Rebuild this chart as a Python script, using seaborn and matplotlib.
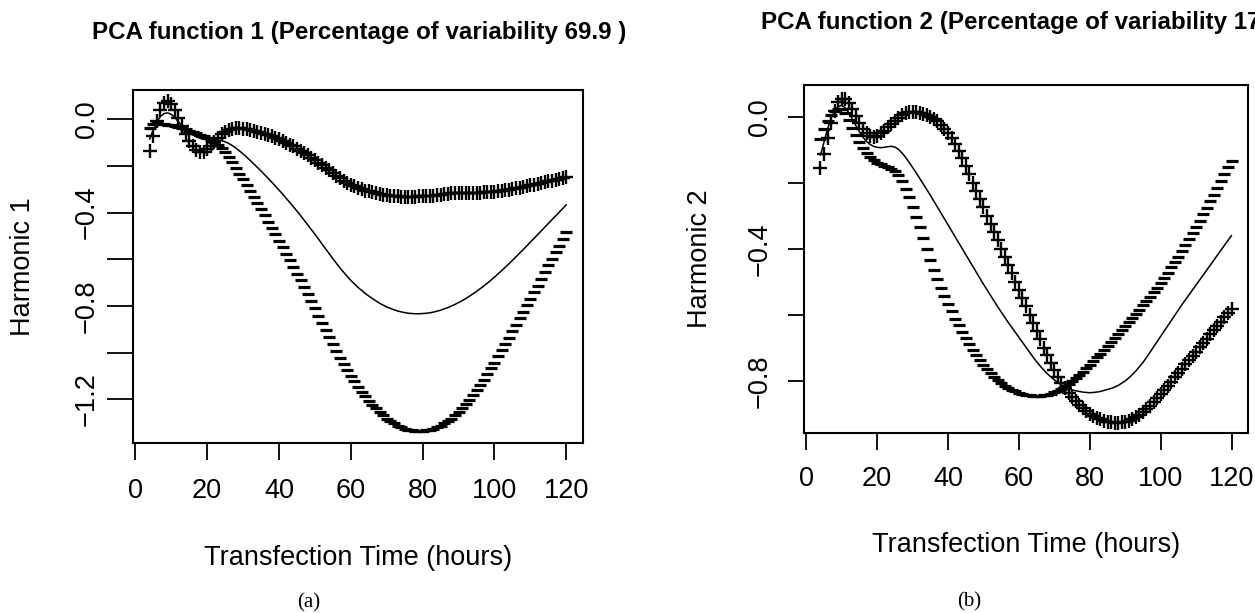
import matplotlib
matplotlib.use("Agg")
import matplotlib.pyplot as plt
import seaborn as sns
import pandas as pd

hours = list(range(4, 121))

mean_a = [-0.085,-0.045,-0.010,0.012,0.025,0.028,0.022,0.008,-0.010,-0.028,
          -0.044,-0.057,-0.067,-0.075,-0.081,-0.085,-0.087,-0.088,-0.088,-0.089,
          -0.091,-0.096,-0.103,-0.112,-0.123,-0.135,-0.148,-0.162,-0.176,-0.191,
          -0.206,-0.221,-0.237,-0.253,-0.269,-0.286,-0.303,-0.320,-0.338,-0.356,
          -0.374,-0.393,-0.412,-0.432,-0.452,-0.472,-0.492,-0.513,-0.534,-0.555,
          -0.576,-0.597,-0.617,-0.637,-0.655,-0.673,-0.690,-0.705,-0.720,-0.733,
          -0.746,-0.757,-0.768,-0.778,-0.788,-0.796,-0.804,-0.810,-0.816,-0.821,
          -0.825,-0.828,-0.831,-0.832,-0.833,-0.833,-0.832,-0.831,-0.829,-0.826,
          -0.822,-0.818,-0.812,-0.807,-0.800,-0.793,-0.785,-0.777,-0.768,-0.758,
          -0.748,-0.737,-0.726,-0.714,-0.702,-0.689,-0.676,-0.662,-0.648,-0.634,
          -0.619,-0.604,-0.589,-0.573,-0.558,-0.542,-0.526,-0.510,-0.494,-0.478,
          -0.462,-0.446,-0.430,-0.414,-0.398,-0.382,-0.366]

plus_a = [-0.135,-0.070,-0.005,0.042,0.070,0.078,0.067,0.041,0.007,-0.028,
          -0.062,-0.092,-0.115,-0.131,-0.139,-0.138,-0.129,-0.114,-0.096,-0.079,
          -0.064,-0.053,-0.045,-0.040,-0.038,-0.038,-0.040,-0.043,-0.046,-0.050,
          -0.054,-0.058,-0.063,-0.068,-0.073,-0.079,-0.085,-0.092,-0.100,-0.108,
          -0.116,-0.125,-0.134,-0.144,-0.154,-0.164,-0.174,-0.185,-0.196,-0.207,
          -0.219,-0.231,-0.242,-0.253,-0.262,-0.271,-0.280,-0.287,-0.294,-0.299,
          -0.305,-0.309,-0.313,-0.317,-0.321,-0.323,-0.326,-0.327,-0.329,-0.330,
          -0.331,-0.331,-0.332,-0.331,-0.331,-0.330,-0.329,-0.329,-0.328,-0.327,
          -0.325,-0.324,-0.321,-0.320,-0.317,-0.317,-0.316,-0.316,-0.316,-0.315,
          -0.315,-0.314,-0.314,-0.313,-0.312,-0.311,-0.310,-0.308,-0.306,-0.304,
          -0.301,-0.299,-0.296,-0.293,-0.290,-0.287,-0.283,-0.280,-0.276,-0.273,
          -0.269,-0.266,-0.262,-0.259,-0.255,-0.252,-0.248]

minus_a = [-0.035,-0.020,-0.015,-0.018,-0.020,-0.022,-0.024,-0.028,-0.033,-0.038,
           -0.043,-0.048,-0.054,-0.060,-0.066,-0.073,-0.080,-0.088,-0.098,-0.109,
           -0.121,-0.139,-0.161,-0.184,-0.208,-0.232,-0.256,-0.281,-0.306,-0.332,
           -0.358,-0.384,-0.411,-0.438,-0.465,-0.493,-0.521,-0.548,-0.576,-0.604,
           -0.632,-0.661,-0.690,-0.720,-0.750,-0.780,-0.810,-0.841,-0.872,-0.903,
           -0.933,-0.963,-0.992,-1.021,-1.048,-1.075,-1.100,-1.123,-1.146,-1.167,
           -1.187,-1.205,-1.223,-1.239,-1.255,-1.269,-1.282,-1.293,-1.303,-1.312,
           -1.319,-1.325,-1.330,-1.333,-1.335,-1.336,-1.335,-1.333,-1.330,-1.325,
           -1.319,-1.312,-1.303,-1.294,-1.283,-1.269,-1.254,-1.238,-1.220,-1.201,
           -1.181,-1.160,-1.138,-1.115,-1.092,-1.067,-1.042,-1.016,-0.990,-0.964,
           -0.937,-0.909,-0.882,-0.853,-0.826,-0.797,-0.769,-0.740,-0.712,-0.683,
           -0.655,-0.626,-0.598,-0.569,-0.541,-0.512,-0.484]

mean_b = [-0.115,-0.075,-0.035,-0.003,0.020,0.033,0.036,0.029,0.014,-0.005,
          -0.025,-0.044,-0.060,-0.073,-0.082,-0.088,-0.091,-0.092,-0.091,-0.089,
          -0.088,-0.090,-0.097,-0.108,-0.121,-0.136,-0.152,-0.168,-0.185,-0.202,
          -0.219,-0.236,-0.254,-0.272,-0.290,-0.308,-0.326,-0.344,-0.362,-0.380,
          -0.398,-0.416,-0.434,-0.452,-0.470,-0.488,-0.506,-0.523,-0.540,-0.557,
          -0.574,-0.590,-0.606,-0.622,-0.637,-0.652,-0.667,-0.682,-0.697,-0.712,
          -0.727,-0.741,-0.754,-0.766,-0.777,-0.787,-0.796,-0.804,-0.811,-0.817,
          -0.822,-0.826,-0.829,-0.831,-0.833,-0.834,-0.835,-0.834,-0.833,-0.831,
          -0.828,-0.825,-0.822,-0.818,-0.813,-0.806,-0.799,-0.790,-0.780,-0.769,
          -0.756,-0.743,-0.728,-0.712,-0.696,-0.680,-0.664,-0.648,-0.632,-0.616,
          -0.600,-0.584,-0.568,-0.553,-0.538,-0.523,-0.508,-0.493,-0.478,-0.463,
          -0.448,-0.433,-0.418,-0.403,-0.388,-0.373,-0.358]

plus_b = [-0.155,-0.110,-0.062,-0.018,0.020,0.045,0.057,0.056,0.044,0.025,
          0.004,-0.017,-0.035,-0.049,-0.057,-0.059,-0.056,-0.049,-0.040,-0.030,
          -0.020,-0.010,-0.001,0.006,0.012,0.015,0.017,0.016,0.014,0.011,
          0.007,0.002,-0.004,-0.012,-0.022,-0.034,-0.048,-0.064,-0.082,-0.102,
          -0.124,-0.148,-0.173,-0.198,-0.223,-0.248,-0.273,-0.298,-0.323,-0.348,
          -0.373,-0.398,-0.423,-0.448,-0.473,-0.498,-0.523,-0.548,-0.573,-0.598,
          -0.623,-0.648,-0.673,-0.698,-0.722,-0.745,-0.767,-0.787,-0.805,-0.821,
          -0.835,-0.848,-0.860,-0.871,-0.881,-0.890,-0.898,-0.905,-0.911,-0.916,
          -0.920,-0.923,-0.925,-0.926,-0.926,-0.925,-0.923,-0.920,-0.915,-0.909,
          -0.902,-0.894,-0.885,-0.875,-0.864,-0.852,-0.840,-0.827,-0.814,-0.801,
          -0.788,-0.775,-0.762,-0.749,-0.736,-0.723,-0.710,-0.697,-0.684,-0.671,
          -0.658,-0.645,-0.632,-0.619,-0.606,-0.593,-0.580]

minus_b = [-0.065,-0.035,-0.010,0.008,0.020,0.026,0.026,0.012,-0.008,-0.031,
           -0.054,-0.075,-0.093,-0.108,-0.120,-0.130,-0.137,-0.143,-0.148,-0.152,
           -0.156,-0.163,-0.175,-0.193,-0.216,-0.242,-0.271,-0.302,-0.334,-0.367,
           -0.400,-0.432,-0.462,-0.490,-0.516,-0.541,-0.565,-0.588,-0.610,-0.631,
           -0.651,-0.670,-0.688,-0.705,-0.721,-0.736,-0.750,-0.763,-0.775,-0.786,
           -0.796,-0.805,-0.813,-0.820,-0.826,-0.831,-0.835,-0.838,-0.841,-0.843,
           -0.844,-0.845,-0.845,-0.843,-0.841,-0.838,-0.834,-0.829,-0.823,-0.816,
           -0.808,-0.800,-0.791,-0.781,-0.771,-0.761,-0.750,-0.739,-0.728,-0.717,
           -0.705,-0.693,-0.681,-0.669,-0.657,-0.645,-0.633,-0.621,-0.609,-0.596,
           -0.583,-0.570,-0.557,-0.544,-0.530,-0.516,-0.501,-0.486,-0.471,-0.455,
           -0.439,-0.422,-0.405,-0.387,-0.369,-0.351,-0.332,-0.313,-0.294,-0.274,
           -0.254,-0.234,-0.214,-0.194,-0.173,-0.152,-0.131]

titles = ["PCA function 1 (Percentage of variability 69.9 )",
          "PCA function 2 (Percentage of variability 17.5 )"]
ylabels = ["Harmonic 1", "Harmonic 2"]
xlabel = "Transfection Time (hours)"
captions = ["(a)", "(b)"]
xticks = [0, 20, 40, 60, 80, 100, 120]
yticks_a = [0.0, -0.2, -0.4, -0.6, -0.8, -1.0, -1.2]
yticklabels_a = ["0.0", "", "\u22120.4", "", "\u22120.8", "", "\u22121.2"]
yticks_b = [0.0, -0.2, -0.4, -0.6, -0.8]
yticklabels_b = ["0.0", "", "\u22120.4", "", "\u22120.8"]

sns.set_theme(style="ticks", rc={"text.color": "black", "axes.labelcolor": "black",
                                 "xtick.color": "black", "ytick.color": "black",
                                 "axes.edgecolor": "black"})
plt.rcParams["font.family"] = ["Liberation Sans", "DejaVu Sans"]

W, H = 1255, 613
fig = plt.figure(figsize=(W / 100, H / 100), dpi=100)
fig.patch.set_facecolor("white")

def px_axes(l, t, r, b):
    return fig.add_axes([l / W, 1 - b / H, (r - l) / W, (b - t) / H])

LAB = 19.5
panels = [
    dict(box=(133, 90, 583, 443), mean=mean_a, plus=plus_a, minus=minus_a,
         ylim=(-1.387, 0.126), yt=yticks_a, ytl=yticklabels_a,
         ylen=18.5, xlen=12, ypad=5.5, xpad=13,
         title_xy=(359, 32), ylab_x=23, xlab_y=558, cap_xy=(309, 603)),
    dict(box=(804, 85, 1248, 433), mean=mean_b, plus=plus_b, minus=minus_b,
         ylim=(-0.957, 0.098), yt=yticks_b, ytl=yticklabels_b,
         ylen=11.5, xlen=12, ypad=11, xpad=11.5,
         title_xy=(1028, 22), ylab_x=700, xlab_y=545, cap_xy=(969, 602)),
]

for i, p in enumerate(panels):
    ax = px_axes(*p["box"])
    ax.set_facecolor("white")
    df = pd.DataFrame({"t": hours, "mean": p["mean"], "plus": p["plus"], "minus": p["minus"]})
    sns.lineplot(data=df, x="t", y="mean", ax=ax, color="black", linewidth=1.1)
    sns.lineplot(data=df, x="t", y="plus", ax=ax, color="black", linestyle="none",
                 marker="+", markersize=9.5, markeredgewidth=1.7, markeredgecolor="black")
    sns.lineplot(data=df, x="t", y="minus", ax=ax, color="black", linestyle="none",
                 marker="_", markersize=9, markeredgewidth=2.3, markeredgecolor="black")
    ax.set_xlim(-0.64, 124.64)
    ax.set_ylim(*p["ylim"])
    ax.set_xticks(xticks)
    ax.set_xticklabels([str(v) for v in xticks], fontsize=LAB)
    ax.set_yticks(p["yt"])
    ax.set_yticklabels(p["ytl"], fontsize=LAB, rotation=90, va="center")
    ax.tick_params(axis="x", direction="out", length=p["xlen"], width=1.3, pad=p["xpad"], color="black")
    ax.tick_params(axis="y", direction="out", length=p["ylen"], width=1.3, pad=p["ypad"], color="black")
    for s in ax.spines.values():
        s.set_visible(True)
        s.set_color("black")
        s.set_linewidth(1.5)
    ax.set_xlabel("")
    ax.set_ylabel("")
    ax.grid(False)

    tx, ty = p["title_xy"]
    fig.text(tx / W, 1 - ty / H, titles[i], ha="center", va="center",
             fontsize=17.4, fontweight="bold", color="black")
    l, t, r, b = p["box"]
    fig.text(p["ylab_x"] / W, 1 - ((t + b) / 2) / H, ylabels[i], ha="center", va="center",
             rotation=90, fontsize=LAB, color="black")
    fig.text(((l + r) / 2) / W, 1 - p["xlab_y"] / H, xlabel, ha="center", va="center",
             fontsize=LAB, color="black")
    cx, cy = p["cap_xy"]
    fig.text(cx / W, 1 - cy / H, captions[i], ha="center", va="center",
             fontsize=15, color="black", family=["Liberation Serif", "DejaVu Serif"])

fig.savefig("out.png", dpi=100, facecolor="white")
